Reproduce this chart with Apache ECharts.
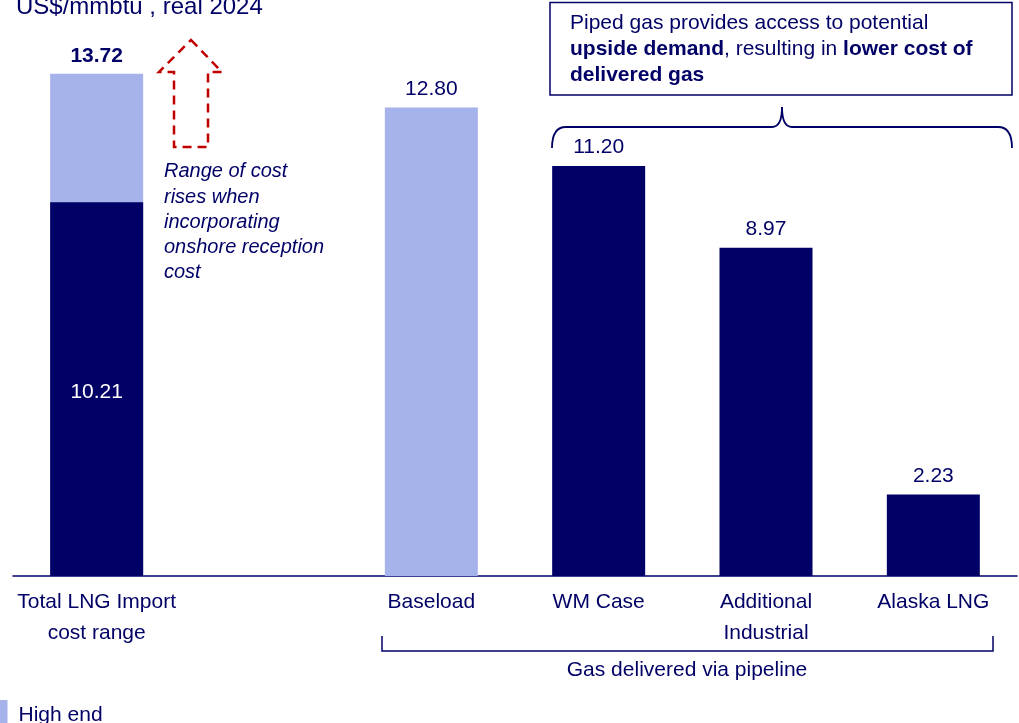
<!DOCTYPE html>
<html>
<head>
<meta charset="utf-8">
<script src="https://cdn.jsdelivr.net/npm/echarts@6/dist/echarts.min.js"></script>
<style>
  html, body { margin: 0; padding: 0; background: #ffffff; }
  #chart { width: 1019px; height: 723px; }
</style>
</head>
<body>
<div id="chart"></div>
<script>
// Delivered gas cost, US$/mmbtu (real 2024)
const categories = ['Total LNG Import\ncost range', '', 'Baseload', 'WM Case', 'Additional\nIndustrial', 'Alaska LNG'];
const lngHighEnd = [13.72, '-', '-', '-', '-', '-'];
const lngLowEnd = [10.21, '-', '-', '-', '-', '-'];
const pipelineCost = ['-', '-', 12.80, 11.20, 8.97, 2.23];
const pipelineShade = ['dark', 'dark', 'light', 'dark', 'dark', 'dark'];

const NAVY = '#000066';
const LIGHT = '#A6B2EA';
const RED = '#C00000';
const FONT = 'Liberation Sans, Arial, sans-serif';

const chart = echarts.init(document.getElementById('chart'), null, { renderer: 'canvas' });

const valueLabel = {
  show: true,
  position: 'top',
  distance: 8,
  color: NAVY,
  fontSize: 21,
  fontFamily: FONT,
  formatter: p => Number(p.value).toFixed(2)
};

const braceStroke = { fill: 'none', stroke: NAVY, lineWidth: 1.8 };

chart.setOption({
  animation: false,
  textStyle: { fontFamily: FONT },
  title: {
    text: 'US$/mmbtu , real 2024',
    left: 11,
    top: -10,
    textStyle: { color: NAVY, fontSize: 24, fontWeight: 'normal', fontFamily: FONT }
  },
  legend: {
    data: ['High end'],
    left: -7.5,
    top: 695,
    icon: 'rect',
    itemWidth: 10,
    itemHeight: 30,
    textStyle: { color: NAVY, fontSize: 21, fontFamily: FONT, padding: [0, 0, 0, 6] }
  },
  grid: { left: 13, right: 2, top: 27, bottom: 147 },
  xAxis: {
    type: 'category',
    data: categories,
    axisLine: { lineStyle: { color: NAVY, width: 1.5 } },
    axisTick: { show: false },
    axisLabel: {
      color: NAVY,
      fontSize: 21,
      lineHeight: 31,
      margin: 11,
      interval: 0,
      fontFamily: FONT
    }
  },
  yAxis: { type: 'value', min: 0, max: 15, show: false },
  series: [
    {
      name: 'High end',
      type: 'bar',
      data: lngHighEnd,
      barWidth: 93,
      barGap: '-100%',
      itemStyle: { color: LIGHT },
      label: Object.assign({}, valueLabel, { fontWeight: 'bold', distance: 7 })
    },
    {
      name: 'Low end',
      type: 'bar',
      data: lngLowEnd,
      barWidth: 93,
      barGap: '-100%',
      itemStyle: { color: NAVY },
      label: Object.assign({}, valueLabel, { position: 'inside', color: '#ffffff', offset: [0, 3] })
    },
    {
      name: 'Pipeline',
      type: 'bar',
      data: pipelineCost.map((v, i) => ({
        value: v,
        itemStyle: { color: pipelineShade[i] === 'light' ? LIGHT : NAVY }
      })),
      barWidth: 93,
      barGap: '-100%',
      label: valueLabel
    }
  ],
  graphic: [
    // callout box
    {
      type: 'rect',
      shape: { x: 550, y: 2.5, width: 462, height: 92.5 },
      style: { fill: 'none', stroke: NAVY, lineWidth: 1.5 }
    },
    {
      type: 'text',
      x: 570,
      y: 10,
      style: {
        text: 'Piped gas provides access to potential\n{b|upside demand}, resulting in {b|lower cost of}\n{b|delivered gas}',
        font: '21px ' + FONT,
        fill: NAVY,
        lineHeight: 26,
        rich: {
          b: { fontWeight: 'bold', fontSize: 21, fontFamily: FONT, fill: NAVY, lineHeight: 26 }
        }
      }
    },
    // curly brace over the pipeline cases
    { type: 'bezierCurve', shape: { x1: 552, y1: 148, x2: 566, y2: 127, cpx1: 552, cpy1: 127 }, style: braceStroke },
    { type: 'line', shape: { x1: 566, y1: 127, x2: 772, y2: 127 }, style: braceStroke },
    { type: 'bezierCurve', shape: { x1: 772, y1: 127, x2: 782, y2: 107, cpx1: 782, cpy1: 127 }, style: braceStroke },
    { type: 'bezierCurve', shape: { x1: 782, y1: 107, x2: 792, y2: 127, cpx1: 782, cpy1: 127 }, style: braceStroke },
    { type: 'line', shape: { x1: 792, y1: 127, x2: 998, y2: 127 }, style: braceStroke },
    { type: 'bezierCurve', shape: { x1: 998, y1: 127, x2: 1012, y2: 148, cpx1: 1012, cpy1: 127 }, style: braceStroke },
    // dashed arrow for the onshore reception range
    {
      type: 'polygon',
      shape: {
        points: [[191, 40], [222, 72], [208, 72], [208, 147], [174, 147], [174, 72], [159, 72]]
      },
      style: { fill: 'none', stroke: RED, lineWidth: 2.5, lineDash: [9, 6] }
    },
    {
      type: 'text',
      x: 164,
      y: 159,
      style: {
        text: 'Range of cost\nrises when\nincorporating\nonshore reception\ncost',
        font: 'italic 20px ' + FONT,
        fill: NAVY,
        lineHeight: 25.3
      }
    },
    // bracket under the pipeline categories
    {
      type: 'polyline',
      shape: { points: [[382, 636], [382, 651], [993, 651], [993, 636]] },
      style: { fill: 'none', stroke: NAVY, lineWidth: 1.5 }
    },
    {
      type: 'text',
      x: 687,
      y: 670,
      style: {
        text: 'Gas delivered via pipeline',
        font: '21px ' + FONT,
        fill: NAVY,
        textAlign: 'center',
        textVerticalAlign: 'middle'
      }
    }
  ]
});
</script>
</body>
</html>
